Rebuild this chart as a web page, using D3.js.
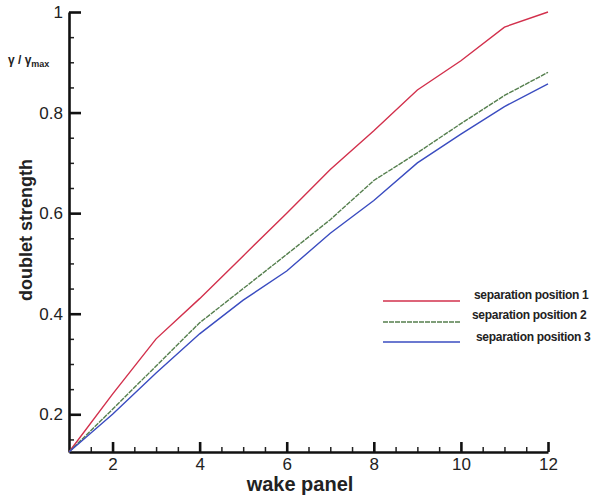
<!DOCTYPE html>
<html>
<head>
<meta charset="utf-8">
<script src="https://cdn.jsdelivr.net/npm/d3@7"></script>
<style>
  body { margin: 0; background: #fff; }
  text { font-family: "Liberation Sans", Arial, sans-serif; }
</style>
</head>
<body>
<div class="chart"></div>
<script>
// wake panel index
const panels = [1, 2, 3, 4, 5, 6, 7, 8, 9, 10, 11, 12];
// doublet strength
const sep1 = [0.125, 0.24, 0.35, 0.43, 0.515, 0.60, 0.687, 0.764, 0.845, 0.903, 0.97, 1.0];
const sep2 = [0.125, 0.21, 0.296, 0.382, 0.45, 0.518, 0.587, 0.665, 0.72, 0.778, 0.834, 0.88];
const sep3 = [0.125, 0.20, 0.282, 0.36, 0.427, 0.485, 0.56, 0.625, 0.70, 0.757, 0.812, 0.857];
const seriesNames = ["separation position 1", "separation position 2", "separation position 3"];
const xTicks = [2, 4, 6, 8, 10, 12];
const yTicks = [0.2, 0.4, 0.6, 0.8, 1];

const width = 600, height = 498;
const colors = ["#d2304c", "#557f4e", "#3a4cc0"];

const svg = d3.select(".chart").append("svg")
  .attr("width", width)
  .attr("height", height);

const x = d3.scaleLinear().domain([1, 12]).range([69, 548]);
const y = d3.scaleLinear().domain([0.125, 1]).range([452, 12]);

// minor ticks
svg.append("g")
  .attr("transform", `translate(0,${y(0.125)})`)
  .call(d3.axisBottom(x).tickValues(d3.range(1.5, 12, 0.5).filter(v => v % 2 !== 0)).tickSize(-5).tickFormat(""))
  .call(g => g.select(".domain").remove())
  .call(g => g.selectAll("line").attr("stroke", "#222").attr("stroke-width", 1.5));

svg.append("g")
  .attr("transform", `translate(${x(1)},0)`)
  .call(d3.axisLeft(y).tickValues(d3.range(0.15, 1, 0.05).filter(v => Math.abs(v * 5 - Math.round(v * 5)) > 0.01)).tickSize(-5).tickFormat(""))
  .call(g => g.select(".domain").remove())
  .call(g => g.selectAll("line").attr("stroke", "#222").attr("stroke-width", 1.5));

// major axes
const xAxis = svg.append("g")
  .attr("transform", `translate(0,${y(0.125)})`)
  .call(d3.axisBottom(x).tickValues(xTicks).tickSize(-10).tickPadding(6).tickSizeOuter(0));

const yAxis = svg.append("g")
  .attr("transform", `translate(${x(1)},0)`)
  .call(d3.axisLeft(y).tickValues(yTicks).tickSize(-12).tickPadding(6).tickSizeOuter(0)
    .tickFormat(d => d === 1 ? "1" : d3.format(".1f")(d)));

[xAxis, yAxis].forEach(g => {
  g.select(".domain").attr("stroke", "#111").attr("stroke-width", 2.6);
  g.selectAll(".tick line").attr("stroke", "#111").attr("stroke-width", 2.6);
  g.selectAll(".tick text").attr("fill", "#222").attr("font-size", 17);
});

// lines
const line = d3.line()
  .x((d, i) => x(panels[i]))
  .y(d => y(d));

[sep1, sep2, sep3].forEach((s, i) => {
  svg.append("path")
    .datum(s)
    .attr("fill", "none")
    .attr("stroke", colors[i])
    .attr("stroke-width", 1.4)
    .attr("stroke-dasharray", i === 1 ? "5,1" : null)
    .attr("d", line);
});

// legend
const legendY = [301, 322, 342];
const legendTextX = [474, 472, 476];
seriesNames.forEach((name, i) => {
  svg.append("line")
    .attr("x1", 383).attr("x2", 460)
    .attr("y1", legendY[i]).attr("y2", legendY[i])
    .attr("stroke", colors[i])
    .attr("stroke-width", 1.4)
    .attr("stroke-dasharray", i === 1 ? "5,1" : null);
  svg.append("text")
    .attr("x", legendTextX[i])
    .attr("y", legendY[i] - 2 + (i === 0 ? 0 : i === 1 ? -1 : 1))
    .attr("font-size", 12)
    .attr("font-weight", "bold")
    .attr("letter-spacing", -0.3)
    .attr("fill", "#222")
    .text(name);
});

// axis titles
svg.append("text")
  .attr("x", 300).attr("y", 491)
  .attr("text-anchor", "middle")
  .attr("font-size", 20)
  .attr("font-weight", "bold")
  .attr("fill", "#222")
  .text("wake panel");

svg.append("text")
  .attr("transform", "translate(32,230) rotate(-90)")
  .attr("text-anchor", "middle")
  .attr("font-size", 18)
  .attr("font-weight", "bold")
  .attr("fill", "#222")
  .text("doublet strength");

const gl = svg.append("text")
  .attr("x", 8).attr("y", 64)
  .attr("font-size", 12)
  .attr("font-weight", "bold")
  .attr("fill", "#222");
gl.append("tspan").text("γ / γ");
gl.append("tspan").attr("font-size", 9).attr("dy", 3).text("max");
</script>
</body>
</html>
